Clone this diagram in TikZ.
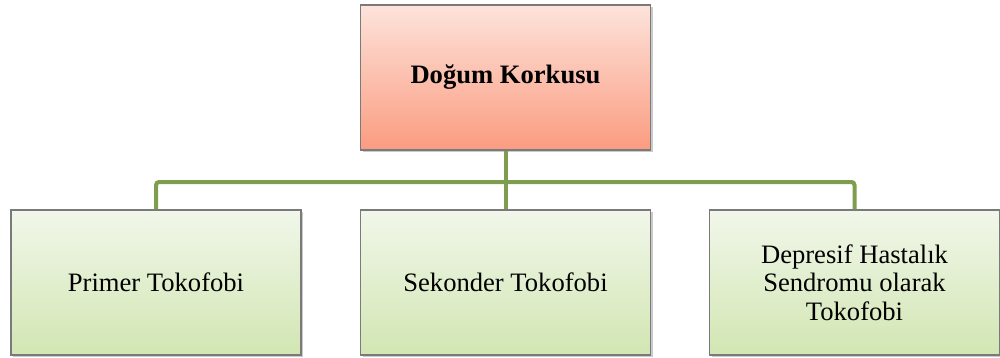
\documentclass[tikz,border=0pt]{standalone}
\usepackage{fontspec}
\setmainfont{Liberation Serif}
\usetikzlibrary{shadows}
\definecolor{pinktop}{HTML}{FDE3DB}
\definecolor{pinkbot}{HTML}{FB9C80}
\definecolor{greentop}{HTML}{F1F7EA}
\definecolor{greenbot}{HTML}{D2E6B3}
\definecolor{conngreen}{HTML}{7E9D4E}
\definecolor{bordergray}{HTML}{7A7A7A}
\tikzset{
  box/.style={draw=bordergray, line width=1.2pt, minimum width=290pt, minimum height=145pt,
    inner sep=0pt, align=center, font=\fontsize{26.6}{28.5}\selectfont,
    drop shadow={shadow xshift=2pt, shadow yshift=-2pt, opacity=0.35, fill=black!60}},
  topbox/.style={box, top color=pinktop, bottom color=pinkbot},
  childbox/.style={box, top color=greentop, bottom color=greenbot},
  conn/.style={draw=conngreen, line width=4pt, rounded corners=3pt}
}
\begin{document}
\begin{tikzpicture}[x=1pt, y=-1pt]
\useasboundingbox (0,0) rectangle (1000,358);
\node[topbox] (top) at (505.5,77.5) {\textbf{Doğum Korkusu}};
\node[childbox] (left) at (156,282.5) {Primer Tokofobi};
\node[childbox] (mid) at (505.5,282.5) {Sekonder Tokofobi};
\node[childbox] (right) at (854.5,282.5) {Depresif Hastalık\\Sendromu olarak\\Tokofobi};
\coordinate (bar) at (505.5,182);
\draw[conn] (top.south) -- (mid.north);
\draw[conn] (left.north) |- (bar) -| (right.north);
\end{tikzpicture}
\end{document}
